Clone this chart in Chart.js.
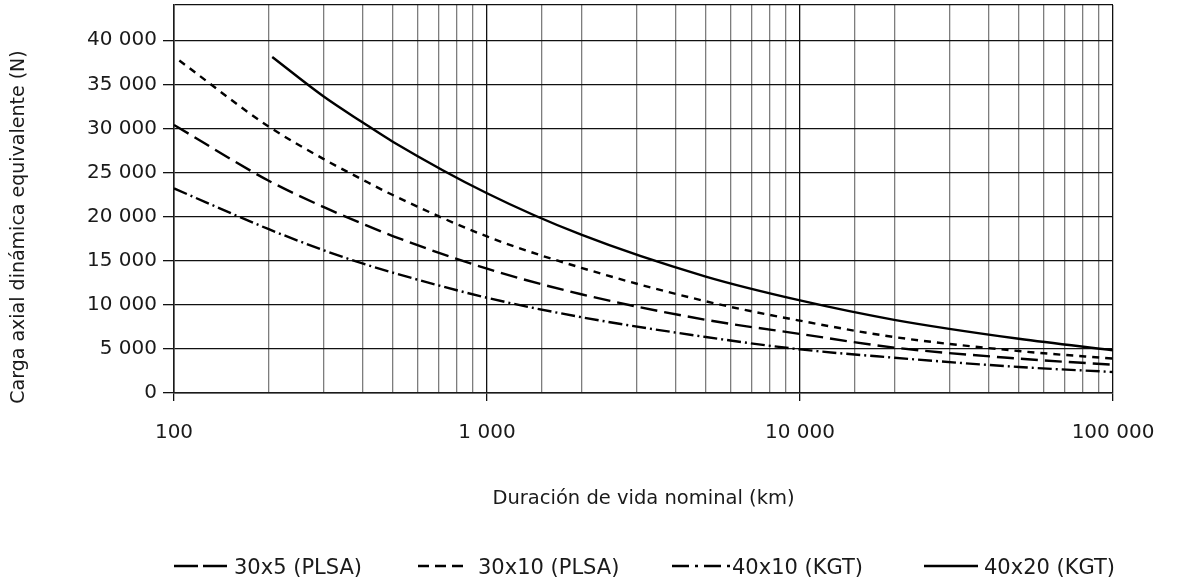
<!DOCTYPE html>
<html>
<head>
<meta charset="utf-8">
<script src="https://cdn.jsdelivr.net/npm/chart.js@4.4.1/dist/chart.umd.min.js"></script>
<style>
  html, body { margin: 0; padding: 0; background: #fff; }
</style>
</head>
<body>
<canvas id="loadChart" width="1179" height="583"></canvas>
<script>
// Carga axial dinámica equivalente vs. duración de vida nominal
const seriesLabels = ['30x5 (PLSA)', '30x10 (PLSA)', '40x10 (KGT)', '40x20 (KGT)'];

// x values (km), y values (N)
const life30x5 = [100, 200, 300, 400, 500, 1000, 2000, 5000, 10000, 20000, 50000, 100000];
const load30x5 = [30400, 24100, 21100, 19200, 17800, 14100, 11200, 8300, 6700, 5150, 3900, 3200];

const life30x10 = [104, 200, 300, 400, 500, 1000, 2000, 5000, 10000, 20000, 50000, 100000];
const load30x10 = [37700, 30250, 26550, 24200, 22450, 17750, 14200, 10400, 8200, 6350, 4760, 3900];

const life40x10 = [100, 200, 300, 400, 500, 1000, 2000, 5000, 10000, 20000, 50000, 100000];
const load40x10 = [23200, 18600, 16200, 14700, 13650, 10800, 8600, 6350, 4950, 4000, 2950, 2380];

const life40x20 = [206, 300, 400, 500, 1000, 2000, 5000, 10000, 20000, 50000, 100000];
const load40x20 = [38100, 33650, 30700, 28500, 22650, 17950, 13200, 10500, 8300, 6150, 4850];

const yTicks = [0, 5000, 10000, 15000, 20000, 25000, 30000, 35000, 40000];

const FONT = 'DejaVu Sans';
const INK = '#1a1a1a';

function points(xs, ys) {
    return xs.map((x, i) => ({ x: x, y: ys[i] }));
}

function spaced(v) {
    return String(Math.round(v)).replace(/\B(?=(\d{3})+(?!\d))/g, ' ');
}

function isDecade(v) {
    const l = Math.log10(v);
    return Math.abs(l - Math.round(l)) < 1e-9;
}

function lineSet(label, data, dash, legendDash, legendLen) {
    return {
        label: label,
        data: data,
        borderColor: '#000',
        borderWidth: 2.4,
        borderDash: dash,
        legendDash: legendDash,
        legendLen: legendLen,
        pointRadius: 0,
        fill: false,
        cubicInterpolationMode: 'monotone'
    };
}

// legend + rotated y title drawn by hand
const legendStart = [174, 418, 672, 924];

const extras = {
    id: 'extras',
    afterDraw(chart) {
        const ctx = chart.ctx;
        ctx.save();
        ctx.fillStyle = INK;
        ctx.font = '19px "' + FONT + '"';
        ctx.translate(19, 227);
        ctx.rotate(-Math.PI / 2);
        ctx.textAlign = 'center';
        ctx.textBaseline = 'middle';
        ctx.fillText('Carga axial dinámica equivalente (N)', 0, 0);
        ctx.restore();

        const y = 566;
        ctx.save();
        ctx.font = '21px "' + FONT + '"';
        ctx.textBaseline = 'middle';
        ctx.fillStyle = INK;
        chart.data.datasets.forEach((ds, i) => {
            const x = legendStart[i];
            ctx.strokeStyle = '#000';
            ctx.lineWidth = 2.6;
            ctx.setLineDash(ds.legendDash);
            ctx.beginPath();
            ctx.moveTo(x, y);
            ctx.lineTo(x + ds.legendLen, y);
            ctx.stroke();
            ctx.setLineDash([]);
            ctx.fillText(ds.label, x + 60, y + 3);
        });
        ctx.restore();
    }
};

const config = {
    type: 'line',
    data: {
        datasets: [
            lineSet(seriesLabels[0], points(life30x5, load30x5), [17, 7], [24, 5], 53),
            lineSet(seriesLabels[1], points(life30x10, load30x10), [7, 6], [11, 6], 45),
            lineSet(seriesLabels[2], points(life40x10, load40x10), [14, 4, 2, 4], [17, 6, 3, 6], 58),
            lineSet(seriesLabels[3], points(life40x20, load40x20), [], [], 54)
        ]
    },
    options: {
        responsive: false,
        animation: false,
        layout: { padding: { top: 5, right: 66, bottom: 0, left: 0 } },
        plugins: {
            legend: { display: false },
            tooltip: { enabled: false }
        },
        scales: {
            x: {
                type: 'logarithmic',
                min: 100,
                max: 100000,
                afterFit: s => { s.height = 190; },
                border: { color: INK, width: 1.5 },
                grid: {
                    color: c => (c.tick && isDecade(c.tick.value)) ? '#111' : '#7d7d7d',
                    lineWidth: 1.3,
                    tickLength: 8,
                    tickColor: c => (c.tick && isDecade(c.tick.value)) ? '#111' : 'rgba(0,0,0,0)'
                },
                ticks: {
                    autoSkip: false,
                    maxRotation: 0,
                    padding: 20,
                    color: INK,
                    font: { family: FONT, size: 20 },
                    callback: v => isDecade(v) ? spaced(v) : ''
                },
                title: {
                    display: true,
                    text: 'Duración de vida nominal (km)',
                    color: INK,
                    font: { family: FONT, size: 19.5 },
                    padding: { top: 0, bottom: 72 }
                }
            },
            y: {
                type: 'linear',
                min: 0,
                max: 44000,
                afterFit: s => {
                    s.width = 174;
                    s.paddingTop = 0;
                    s.paddingBottom = 0;
                },
                afterBuildTicks: s => {
                    s.ticks = yTicks.concat([44000]).map(v => ({ value: v }));
                },
                border: { color: INK, width: 1.5 },
                grid: {
                    color: '#111',
                    lineWidth: 1.3,
                    tickLength: 11,
                    tickColor: c => (c.tick && c.tick.value > 40000) ? 'rgba(0,0,0,0)' : '#111'
                },
                ticks: {
                    padding: 6,
                    color: INK,
                    font: { family: FONT, size: 20 },
                    callback: v => yTicks.includes(v) ? spaced(v) : ''
                }
            }
        }
    },
    plugins: [extras]
};

const loadChart = new Chart(document.getElementById('loadChart'), config);
</script>
</body>
</html>
